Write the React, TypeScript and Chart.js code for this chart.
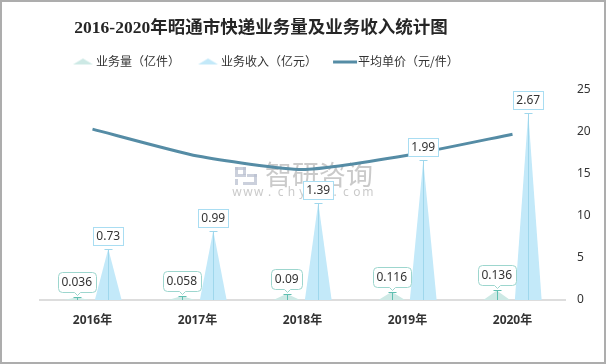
import React, { useEffect, useRef } from 'react';
import { Chart, registerables } from 'chart.js';

Chart.register(...registerables);

const TITLE = '2016-2020年昭通市快递业务量及业务收入统计图';
const YEARS = ['2016年', '2017年', '2018年', '2019年', '2020年'];
const SERIES_NAMES = ['业务量（亿件）', '业务收入（亿元）', '平均单价（元/件）'];
const VOLUME = [0.036, 0.058, 0.09, 0.116, 0.136];
const REVENUE = [0.73, 0.99, 1.39, 1.99, 2.67];
const UNIT_PRICE = [20.3, 17.1, 15.5, 17.2, 19.7];
const PRICE_AXIS = { min: 0, max: 25, step: 5 };
const AMOUNT_AXIS = { min: 0, max: 3 };
const WATERMARK = '智研咨询';
const WATERMARK_URL = 'www.chyxx.com';

const CJK = '"Noto Sans CJK SC", "Noto Sans", sans-serif';
const LATIN = '"Noto Sans", "Noto Sans CJK SC", sans-serif';
const SERIF = '"Liberation Serif", "Noto Sans CJK SC", serif';

const VOL_FILL = '#cde9e5';
const VOL_LINE = '#5fbfb1';
const VOL_BORDER = '#9dd6ce';
const REV_FILL = '#c3e9f9';
const REV_LINE = '#9fd7ec';
const REV_BORDER = '#a9ddf2';
const LINE_COLOR = '#558ca5';

function makeIcon(draw: (g: CanvasRenderingContext2D) => void) {
  const c = document.createElement('canvas');
  c.width = 40;
  c.height = 10;
  const g = c.getContext('2d') as CanvasRenderingContext2D;
  draw(g);
  return c;
}

export default function App() {
  const ref = useRef<HTMLCanvasElement>(null);

  useEffect(() => {
    if (!ref.current) return;
    const volIcon = makeIcon((g) => {
      g.fillStyle = VOL_FILL;
      g.beginPath();
      g.moveTo(9, 8);
      g.lineTo(19, 2);
      g.lineTo(29, 8);
      g.closePath();
      g.fill();
    });
    const revIcon = makeIcon((g) => {
      g.fillStyle = REV_FILL;
      g.beginPath();
      g.moveTo(9, 8);
      g.lineTo(19, 2);
      g.lineTo(29, 8);
      g.closePath();
      g.fill();
    });
    const lineIcon = makeIcon((g) => {
      g.strokeStyle = LINE_COLOR;
      g.lineWidth = 3;
      g.beginPath();
      g.moveTo(7, 5.5);
      g.lineTo(31, 5.5);
      g.stroke();
    });

    const custom = {
      id: 'custom',
      afterLayout(chart: any) {
        const t = chart.titleBlock;
        if (t) {
          const h = t.bottom - t.top;
          t.left = 0;
          t.right = 518;
          t.top = 15.5;
          t.bottom = t.top + h;
        }
        const l = chart.legend;
        if (l) {
          const h = l.bottom - l.top;
          l.left = 53;
          l.right = 602;
          l.top = 30.5;
          l.bottom = l.top + h;
        }
      },
      beforeDatasetsDraw(chart: any) {
        const ctx = chart.ctx as CanvasRenderingContext2D;
        ctx.save();
        // watermark
        ctx.fillStyle = 'rgba(185,192,208,0.75)';
        ctx.fillRect(233, 165, 11, 3);
        ctx.fillRect(233, 165, 3, 10);
        ctx.fillRect(241, 165, 3, 8);
        ctx.fillRect(236, 172, 8, 3);
        ctx.fillRect(245, 172, 10, 3);
        ctx.fillRect(252, 172, 3, 8);
        ctx.fillRect(241, 180, 14, 3);
        ctx.fillRect(233, 177, 3, 6);
        ctx.fillStyle = 'rgba(150,150,150,0.5)';
        ctx.font = '27px ' + CJK;
        ctx.textBaseline = 'middle';
        ctx.textAlign = 'left';
        ctx.fillText(WATERMARK, 263, 173);
        ctx.font = '12px ' + LATIN;
        ctx.textAlign = 'center';
        Array.from(WATERMARK_URL).forEach((ch, i) => {
          ctx.fillText(ch, 235 + i * 10.9, 191);
        });
        // triangles
        const drawTri = (ds: number, fill: string, line: string) => {
          const meta = chart.getDatasetMeta(ds);
          meta.data.forEach((el: any) => {
            const { x, y, base, width } = el.getProps(['x', 'y', 'base', 'width'], true);
            ctx.fillStyle = fill;
            ctx.beginPath();
            ctx.moveTo(x - width / 2, base);
            ctx.lineTo(x, y);
            ctx.lineTo(x + width / 2, base);
            ctx.closePath();
            ctx.fill();
            const cx = Math.round(x) + 0.5;
            const cy = Math.round(y) + 0.5;
            ctx.strokeStyle = line;
            ctx.lineWidth = 1;
            ctx.beginPath();
            ctx.moveTo(cx, base);
            ctx.lineTo(cx, cy);
            ctx.moveTo(cx - 4, cy);
            ctx.lineTo(cx + 4, cy);
            ctx.stroke();
          });
        };
        drawTri(0, VOL_FILL, VOL_LINE);
        drawTri(1, REV_FILL, REV_LINE);
        ctx.restore();
      },
      afterDatasetsDraw(chart: any) {
        const ctx = chart.ctx as CanvasRenderingContext2D;
        ctx.save();
        ctx.font = '12px ' + LATIN;
        ctx.textAlign = 'center';
        ctx.textBaseline = 'middle';
        // volume labels (rounded callout)
        chart.getDatasetMeta(0).data.forEach((el: any, i: number) => {
          const { x, y } = el.getProps(['x', 'y'], true);
          const txt = String(VOLUME[i]);
          const tw = ctx.measureText(txt).width;
          const bw = Math.round(tw + 7);
          const bh = 20;
          const bx = Math.round(x - bw / 2) + 0.5;
          const by = Math.round(y - 5 - bh) + 0.5;
          const r = 4;
          const px = Math.round(x) + 0.5;
          ctx.beginPath();
          ctx.moveTo(bx + r, by);
          ctx.lineTo(bx + bw - r, by);
          ctx.arcTo(bx + bw, by, bx + bw, by + r, r);
          ctx.lineTo(bx + bw, by + bh - r);
          ctx.arcTo(bx + bw, by + bh, bx + bw - r, by + bh, r);
          ctx.lineTo(px + 3, by + bh);
          ctx.lineTo(px, by + bh + 3);
          ctx.lineTo(px - 3, by + bh);
          ctx.lineTo(bx + r, by + bh);
          ctx.arcTo(bx, by + bh, bx, by + bh - r, r);
          ctx.lineTo(bx, by + r);
          ctx.arcTo(bx, by, bx + r, by, r);
          ctx.closePath();
          ctx.fillStyle = '#ffffff';
          ctx.fill();
          ctx.strokeStyle = VOL_BORDER;
          ctx.lineWidth = 1;
          ctx.stroke();
          ctx.fillStyle = '#333333';
          ctx.fillText(txt, x, by + bh / 2);
        });
        // revenue labels (square box)
        chart.getDatasetMeta(1).data.forEach((el: any, i: number) => {
          const { x, y } = el.getProps(['x', 'y'], true);
          const txt = String(REVENUE[i]);
          const tw = ctx.measureText(txt).width;
          const bw = Math.round(tw + 6);
          const bh = 18;
          const bx = Math.round(x - bw / 2) + 0.5;
          const by = Math.round(y - 4 - bh) + 0.5;
          ctx.fillStyle = '#ffffff';
          ctx.fillRect(bx, by, bw, bh);
          ctx.strokeStyle = REV_BORDER;
          ctx.lineWidth = 1;
          ctx.strokeRect(bx, by, bw, bh);
          ctx.fillStyle = '#333333';
          ctx.fillText(txt, x, by + bh / 2);
        });
        ctx.restore();
      },
    };

    const chart = new Chart(ref.current, {
      type: 'bar',
      data: {
        labels: YEARS,
        datasets: [
          {
            label: SERIES_NAMES[0],
            data: VOLUME,
            yAxisID: 'y',
            backgroundColor: 'rgba(0,0,0,0)',
            borderWidth: 0,
            categoryPercentage: 0.6,
            barPercentage: 0.85,
          },
          {
            label: SERIES_NAMES[1],
            data: REVENUE,
            yAxisID: 'y',
            backgroundColor: 'rgba(0,0,0,0)',
            borderWidth: 0,
            categoryPercentage: 0.6,
            barPercentage: 0.85,
          },
          {
            type: 'line',
            label: SERIES_NAMES[2],
            data: UNIT_PRICE,
            yAxisID: 'y1',
            borderColor: LINE_COLOR,
            backgroundColor: LINE_COLOR,
            borderWidth: 3,
            pointRadius: 0,
            tension: 0.18,
            fill: false,
          } as any,
        ],
      },
      options: {
        animation: false,
        responsive: true,
        maintainAspectRatio: false,
        events: [],
        layout: { padding: { top: 21.6, left: 38, right: 0, bottom: 0 } },
        scales: {
          x: {
            grid: { display: false, drawTicks: false },
            border: { display: true, color: '#dddddd', width: 2 },
            ticks: {
              color: '#333333',
              padding: 13,
              font: { size: 12, weight: 'bold', family: LATIN },
            },
            afterFit: (s: any) => {
              s.height = 62;
            },
          },
          y: {
            display: false,
            min: AMOUNT_AXIS.min,
            max: AMOUNT_AXIS.max,
          },
          y1: {
            position: 'right',
            min: PRICE_AXIS.min,
            max: PRICE_AXIS.max,
            grid: { display: false, drawTicks: false },
            border: { display: false },
            ticks: {
              stepSize: PRICE_AXIS.step,
              color: '#333333',
              padding: 12,
              font: { size: 12, family: LATIN },
            },
            afterFit: (s: any) => {
              s.width = 39;
            },
          },
        },
        plugins: {
          tooltip: { enabled: false },
          title: {
            display: true,
            text: TITLE,
            color: '#262626',
            padding: 0,
            font: { size: 17.5, weight: 'bold', family: SERIF },
          },
          legend: {
            display: true,
            align: 'start',
            labels: {
              usePointStyle: true,
              pointStyleWidth: 12,
              padding: 23,
              color: '#333333',
              font: { size: 12, family: CJK },
              generateLabels: () => [
                { text: SERIES_NAMES[0], pointStyle: volIcon, fillStyle: 'rgba(0,0,0,0)', strokeStyle: 'rgba(0,0,0,0)', lineWidth: 0, hidden: false, datasetIndex: 0, fontColor: '#333333' },
                { text: SERIES_NAMES[1], pointStyle: revIcon, fillStyle: 'rgba(0,0,0,0)', strokeStyle: 'rgba(0,0,0,0)', lineWidth: 0, hidden: false, datasetIndex: 1, fontColor: '#333333' },
                { text: SERIES_NAMES[2], pointStyle: lineIcon, fillStyle: 'rgba(0,0,0,0)', strokeStyle: 'rgba(0,0,0,0)', lineWidth: 0, hidden: false, datasetIndex: 2, fontColor: '#333333' },
              ] as any,
            },
          },
        },
      } as any,
      plugins: [custom as any],
    });
    return () => chart.destroy();
  }, []);

  return (
    <div
      style={{
        position: 'fixed',
        left: 0,
        top: 0,
        width: 606,
        height: 364,
        boxSizing: 'border-box',
        border: '2px solid #adadad',
        background: '#ffffff',
      }}
    >
      <div style={{ position: 'relative', width: 602, height: 360 }}>
        <canvas ref={ref} />
      </div>
    </div>
  );
}
